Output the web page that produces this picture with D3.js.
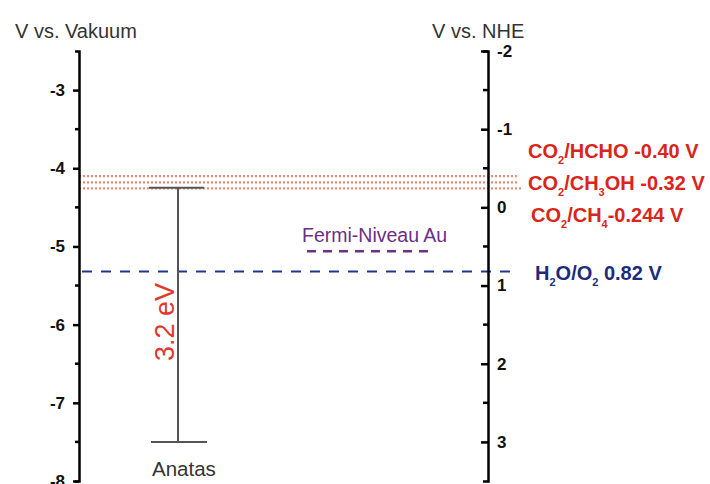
<!DOCTYPE html>
<html>
<head>
<meta charset="utf-8">
<script src="https://cdn.jsdelivr.net/npm/d3@7"></script>
<style>
  body { margin: 0; background: #fff; }
  svg { font-family: "Liberation Sans", Arial, sans-serif; }
</style>
</head>
<body>
<script>
let width = 710;
let height = 484;

// energy levels in V vs. NHE
let redoxNames = ["CO2/HCHO", "CO2/CH3OH", "CO2/CH4"];
let redoxValues = [-0.40, -0.32, -0.244];
let redoxLabels = ["-0.40 V", "-0.32 V", "-0.244 V"];
let waterValue = 0.82;
let fermiVacuum = -5.06;
let bandVacuum = [-4.25, -7.5]; // conduction, valence (V vs. vacuum)
let bandGapLabel = "3.2 eV";
let vacuumTicks = [-3, -4, -5, -6, -7, -8];
let nheTicks = [-2, -1, 0, 1, 2, 3];

let svg = d3.select("body").append("svg")
    .attr("width", width)
    .attr("height", height);

let yVac = d3.scaleLinear().domain([-2.5, -8]).range([51, 481]);
let yNhe = d3.scaleLinear().domain([-2, 3.5]).range([51, 481]);
let leftX = 79, rightX = 488;

// dotted CO2 reduction lines
svg.selectAll(".redox")
    .data(redoxValues)
    .enter()
    .append("line")
    .attr("x1", leftX)
    .attr("x2", (d, i) => i == 2 ? 522 : 518)
    .attr("y1", d => yNhe(d))
    .attr("y2", d => yNhe(d))
    .attr("stroke", "#ec8a78")
    .attr("stroke-width", 2.2)
    .attr("stroke-dasharray", "2 2");

// water oxidation line
svg.append("line")
    .attr("x1", leftX + 3).attr("x2", 518)
    .attr("y1", yNhe(waterValue)).attr("y2", yNhe(waterValue))
    .attr("stroke", "#1f3590")
    .attr("stroke-width", 2)
    .attr("stroke-dasharray", "10 9");

// Fermi level Au
svg.append("line")
    .attr("x1", 307).attr("x2", 430)
    .attr("y1", yVac(fermiVacuum)).attr("y2", yVac(fermiVacuum))
    .attr("stroke", "#6b2f86")
    .attr("stroke-width", 2.5)
    .attr("stroke-dasharray", "9 7");
svg.append("text")
    .attr("x", 302).attr("y", yVac(fermiVacuum) - 9)
    .attr("fill", "#6b2f86")
    .style("font-size", "19.5px")
    .text("Fermi-Niveau Au");

// Anatas band gap
let bx = 178;
let band = svg.append("g").attr("stroke", "#555").attr("stroke-width", 2);
band.append("line").attr("x1", bx).attr("x2", bx)
    .attr("y1", yVac(bandVacuum[0])).attr("y2", yVac(bandVacuum[1]));
band.selectAll(".cap")
    .data(bandVacuum)
    .enter()
    .append("line")
    .attr("x1", (d, i) => i == 0 ? 149 : 151)
    .attr("x2", (d, i) => i == 0 ? 204 : 207)
    .attr("y1", d => yVac(d))
    .attr("y2", d => yVac(d));

svg.append("text")
    .attr("transform", "translate(174," + 322 + ") rotate(-90)")
    .attr("text-anchor", "middle")
    .attr("fill", "#e0382c")
    .style("font-size", "27px")
    .text(bandGapLabel);

svg.append("text")
    .attr("x", 152).attr("y", 476)
    .attr("fill", "#333")
    .style("font-size", "20.5px")
    .text("Anatas");

// axes
let fmt = d => String(d);
let leftAxis = svg.append("g")
    .attr("transform", "translate(" + leftX + ",0)")
    .call(d3.axisLeft(yVac).tickValues(vacuumTicks).tickFormat(fmt)
        .tickSize(6).tickSizeOuter(4).tickPadding(8));
leftAxis.append("g").selectAll("line")
    .data([-3.5, -4.5, -5.5, -6.5, -7.5])
    .enter().append("line")
    .attr("x2", -4)
    .attr("y1", d => yVac(d)).attr("y2", d => yVac(d))
    .attr("stroke", "#000").attr("stroke-width", 2.5);

let rightAxis = svg.append("g")
    .attr("transform", "translate(" + rightX + ",0)")
    .call(d3.axisRight(yNhe).tickValues(nheTicks).tickFormat(fmt)
        .tickSize(-7).tickSizeOuter(-5).tickPadding(9));
rightAxis.append("g").selectAll("line")
    .data([-1.5, -0.5, 0.5, 1.5, 2.5])
    .enter().append("line")
    .attr("x2", -5)
    .attr("y1", d => yNhe(d)).attr("y2", d => yNhe(d))
    .attr("stroke", "#000").attr("stroke-width", 2.5);

svg.selectAll(".domain").attr("stroke-width", 2.5);
svg.selectAll(".tick line").attr("stroke-width", 2.5);
svg.selectAll(".tick text")
    .style("font-size", "17px")
    .style("font-weight", "bold")
    .attr("fill", "#111")
    .style("font-family", "'Liberation Sans', Arial, sans-serif");

// axis titles
svg.append("text").attr("x", 15).attr("y", 38)
    .attr("fill", "#333").style("font-size", "20px").text("V vs. Vakuum");
svg.append("text").attr("x", 432).attr("y", 38)
    .attr("fill", "#333").style("font-size", "20px").text("V vs. NHE");

// labels with subscripts
function chemLabel(x, y, color, parts) {
    let t = svg.append("text")
        .attr("x", x).attr("y", y)
        .attr("fill", color)
        .style("font-size", "20px")
        .style("font-weight", "bold");
    let shift = 0;
    parts.forEach(p => {
        if (typeof p === "object") {
            t.append("tspan").attr("dy", 6 - shift).style("font-size", "11px").text(p.sub);
            shift = 6;
        } else {
            t.append("tspan").attr("dy", -shift).text(p);
            shift = 0;
        }
    });
}

let labelY = [158, 190, 222];
let labelX = [528, 528, 531];
let redoxParts = [
    ["CO", { sub: "2" }, "/HCHO " + redoxLabels[0]],
    ["CO", { sub: "2" }, "/CH", { sub: "3" }, "OH " + redoxLabels[1]],
    ["CO", { sub: "2" }, "/CH", { sub: "4" }, redoxLabels[2]]
];
redoxParts.forEach((p, i) => chemLabel(labelX[i], labelY[i], "#d9251c", p));
chemLabel(535, 280, "#1c2b7e", ["H", { sub: "2" }, "O/O", { sub: "2" }, " " + waterValue.toFixed(2) + " V"]);
</script>
</body>
</html>
